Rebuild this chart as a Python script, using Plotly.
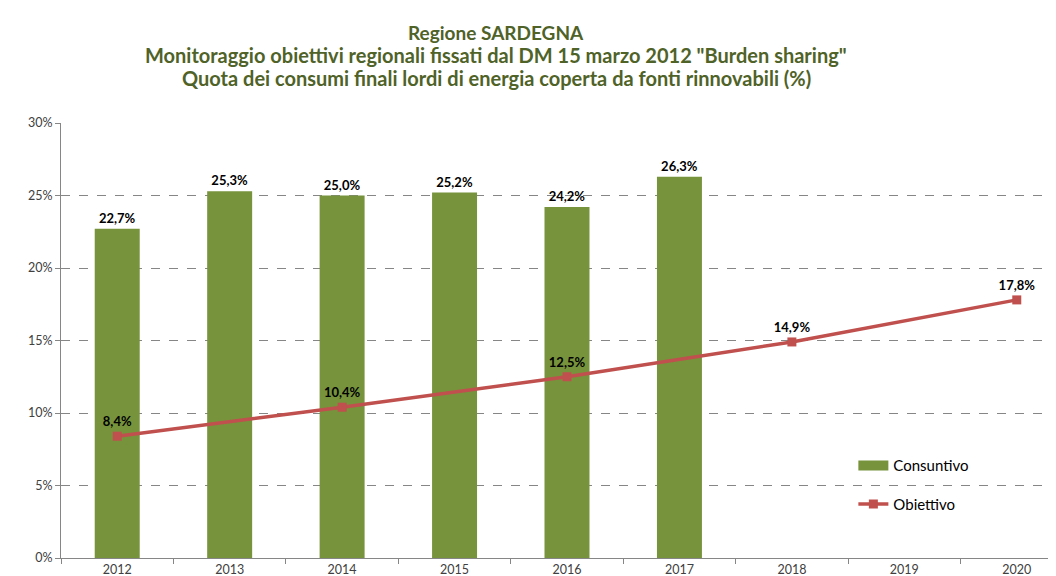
import plotly.graph_objects as go

years = ["2012", "2013", "2014", "2015", "2016", "2017", "2018", "2019", "2020"]
consuntivo = [22.7, 25.3, 25.0, 25.2, 24.2, 26.3, None, None, None]
obiettivo = [8.4, None, 10.4, None, 12.5, None, 14.9, None, 17.8]

def fmt(v):
    return "" if v is None else "<b>" + f"{v:.1f}%".replace(".", ",") + "</b>"

title_lines = [
    "Regione SARDEGNA",
    "Monitoraggio obiettivi regionali fissati dal DM 15 marzo 2012 \"Burden sharing\"",
    "Quota dei consumi finali lordi di energia coperta da fonti rinnovabili (%)",
]

FONT = "Lato"
GREEN = "#77933c"
RED = "#c0504d"
fig = go.Figure()
fig.add_trace(go.Bar(
    x=years, y=consuntivo, name="Consuntivo",
    marker=dict(color=GREEN, line=dict(width=0)),
    width=0.4,
    text=[fmt(v) for v in consuntivo], textposition="outside",
    textfont=dict(family=FONT, size=13, color="#000000"),
    cliponaxis=False, showlegend=False,
))
# legend-only entry drawn as a wide rectangle, like the original swatch
fig.add_trace(go.Scatter(
    x=[None], y=[None], name="Consuntivo", mode="lines",
    line=dict(color=GREEN, width=10), legendgroup="a",
))
fig.add_trace(go.Scatter(
    x=years, y=obiettivo, name="Obiettivo", mode="lines+markers+text",
    connectgaps=True,
    line=dict(color=RED, width=3.5),
    marker=dict(symbol="square", size=9, color=RED),
    text=[fmt(v) for v in obiettivo], textposition="top center",
    textfont=dict(family=FONT, size=13, color="#000000"),
    cliponaxis=False, legendgroup="b",
))

PLOT_TOP, PLOT_BOTTOM = 115, 550
title_centres = [24, 47, 70]
title_sizes = [19, 20, 20]
annotations = []
for txt, yc, sz in zip(title_lines, title_centres, title_sizes):
    annotations.append(dict(
        text=f"<b>{txt}</b>", xref="paper", yref="paper",
        x=(488 - 53) / (1056 - 53), y=(PLOT_BOTTOM - yc) / (PLOT_BOTTOM - PLOT_TOP),
        xanchor="center", yanchor="middle", showarrow=False,
        font=dict(family=FONT, size=sz, color="#4f6228"),
    ))

fig.update_layout(
    width=1056, height=576,
    paper_bgcolor="white", plot_bgcolor="white",
    margin=dict(l=53, r=0, t=PLOT_TOP, b=576 - PLOT_BOTTOM),
    font=dict(family=FONT, size=12, color="#595959"),
    annotations=annotations,
    showlegend=True,
    legend=dict(
        x=0.79, y=0.25, xanchor="left", yanchor="top",
        bgcolor="rgba(255,255,255,0)",
        font=dict(family=FONT, size=15, color="#000000"),
        traceorder="grouped", tracegroupgap=16, itemwidth=30,
    ),
    bargap=0.6,
)
fig.update_xaxes(
    type="category", range=[-0.5, 8.42],
    showline=True, linecolor="#868686", linewidth=1,
    ticks="outside", tickson="boundaries", ticklen=5, tickcolor="#868686",
    tickfont=dict(family=FONT, size=12.5, color="#404040"),
    showgrid=False,
)
fig.update_yaxes(
    range=[0, 30], dtick=5, ticksuffix="%",
    showline=True, linecolor="#868686", linewidth=1,
    ticks="outside", ticklen=5, tickcolor="#868686",
    showgrid=True, gridcolor="#868686", griddash="dash", gridwidth=1,
    tickfont=dict(family=FONT, size=12.5, color="#404040"),
    zeroline=False,
)

fig.write_html("out.html")
